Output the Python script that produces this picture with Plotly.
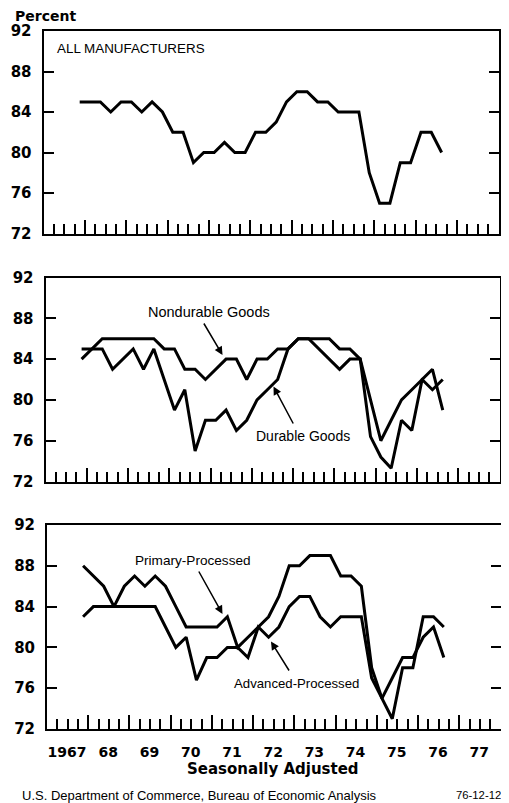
import plotly.graph_objects as go

# ---------------- data ----------------
quarters = ["1967Q4",
            "1968Q1", "1968Q2", "1968Q3", "1968Q4",
            "1969Q1", "1969Q2", "1969Q3", "1969Q4",
            "1970Q1", "1970Q2", "1970Q3", "1970Q4",
            "1971Q1", "1971Q2", "1971Q3", "1971Q4",
            "1972Q1", "1972Q2", "1972Q3", "1972Q4",
            "1973Q1", "1973Q2", "1973Q3", "1973Q4",
            "1974Q1", "1974Q2", "1974Q3", "1974Q4",
            "1975Q1", "1975Q2", "1975Q3", "1975Q4",
            "1976Q1", "1976Q2", "1976Q3"]

all_manufacturers = [85, 85, 85, 84, 85, 85, 84, 85, 84, 82, 82, 79,
                     80, 80, 81, 80, 80, 82, 82, 83, 85, 86, 86, 85,
                     85, 84, 84, 84, 78, 75, 75, 79, 79, 82, 82, 80]

nondurable_goods = [84, 85, 86, 86, 86, 86, 86, 86, 85, 85, 83, 83,
                    82, 83, 84, 84, 82, 84, 84, 85, 85, 86, 86, 86,
                    86, 85, 85, 84, 80, 76, 78, 80, 81, 82, 81, 82]

durable_goods = [85, 85, 85, 83, 84, 85, 83, 85, 82, 79, 81, 75,
                 78, 78, 79, 77, 78, 80, 81, 82, 85, 86, 86, 85,
                 84, 83, 84, 84, 76.4, 74.4, 73.3, 78, 77, 82, 83, 79]

primary_processed = [88, 87, 86, 84, 86, 87, 86, 87, 86, 84, 82, 82,
                     82, 82, 83, 80, 81, 82, 83, 85, 88, 88, 89, 89,
                     89, 87, 87, 86, 78, 75, 73, 78, 78, 83, 83, 82]

advanced_processed = [83, 84, 84, 84, 84, 84, 84, 84, 82, 80, 81, 76.8,
                      79, 79, 80, 80, 79, 82, 81, 82, 84, 85, 85, 83,
                      82, 83, 83, 83, 77, 75, 77, 79, 79, 81, 82, 79]

year_ticks = [1967, 1968, 1969, 1970, 1971, 1972, 1973, 1974, 1975, 1976, 1977]
year_labels = ["1967", "68", "69", "70", "71", "72", "73", "74", "75", "76", "77"]
y_ticks = [72, 76, 80, 84, 88, 92]
y_labels = ["72", "76", "80", "84", "88", "92"]

# quarter label -> position at the middle of the quarter
xq = [int(q[:4]) + (int(q[-1]) - 1) * 0.25 + 0.125 for q in quarters]

# ---------------- layout helpers ----------------
# The page body has an 8px margin, so the figure is drawn 8px smaller and
# all page-pixel positions below are converted with that offset.
PAGE_W, PAGE_H = 509, 803
OFF = 8
W, H = PAGE_W - OFF, PAGE_H - OFF


def fx(p):
    return (p - OFF) / W


def fy(p):
    return 1 - (p - OFF) / H


NUM_FONT = dict(family="DejaVu Sans", size=15, color="black", weight="bold")
XNUM_FONT = dict(family="DejaVu Sans", size=14, color="black", weight="bold")
NARROW = "Liberation Sans Narrow, Arial Narrow, Liberation Sans, Arial, sans-serif"

fig = go.Figure()

LINE = dict(color="black", width=3)
fig.add_trace(go.Scatter(x=xq, y=all_manufacturers, mode="lines", line=LINE,
                         xaxis="x", yaxis="y", name="All Manufacturers"))
fig.add_trace(go.Scatter(x=xq, y=nondurable_goods, mode="lines", line=LINE,
                         xaxis="x2", yaxis="y2", name="Nondurable Goods"))
fig.add_trace(go.Scatter(x=xq, y=durable_goods, mode="lines", line=LINE,
                         xaxis="x2", yaxis="y2", name="Durable Goods"))
fig.add_trace(go.Scatter(x=xq, y=primary_processed, mode="lines", line=LINE,
                         xaxis="x3", yaxis="y3", name="Primary-Processed"))
fig.add_trace(go.Scatter(x=xq, y=advanced_processed, mode="lines", line=LINE,
                         xaxis="x3", yaxis="y3", name="Advanced-Processed"))

panels = [  # (left, right, top, bottom) in page pixels
    (43.5, 498.5, 31.0, 233.5),
    (45.5, 499.5, 277.5, 481.5),
    (47.0, 500.5, 525.0, 729.0),
]


def xaxis_def(i, l, r, show_labels):
    d = dict(domain=[fx(l), fx(r)], range=[1967, 1978], anchor="y" + ("" if i == 1 else str(i)),
             automargin=False,
             showline=True, linecolor="black", linewidth=2, mirror=True,
             ticks="inside", ticklen=14, tickwidth=1.6, tickcolor="black",
             tickmode="array", tickvals=year_ticks, ticktext=year_labels,
             showticklabels=show_labels, tickfont=XNUM_FONT,
             ticklabelshift=20, ticklabelstandoff=9,
             showgrid=False, zeroline=False,
             minor=dict(ticks="inside", ticklen=10, tickwidth=1.6, tickcolor="black",
                        dtick=0.25, tick0=1967, showgrid=False))
    return d


def yaxis_def(i, t, b):
    return dict(domain=[fy(b), fy(t)], range=[72, 92], anchor="x" + ("" if i == 1 else str(i)),
                automargin=False,
                showline=True, linecolor="black", linewidth=2, mirror="ticks",
                ticks="inside", ticklen=10, tickwidth=1.6, tickcolor="black",
                tickmode="array", tickvals=y_ticks, ticktext=y_labels,
                tickfont=NUM_FONT, ticklabelstandoff=7,
                showgrid=False, zeroline=False)


layout_axes = {}
for i, (l, r, t, b) in enumerate(panels, start=1):
    key = "" if i == 1 else str(i)
    layout_axes["xaxis" + key] = xaxis_def(i, l, r, i == 3)
    layout_axes["yaxis" + key] = yaxis_def(i, t, b)

annotations = []


def text(s, x, y, size, family=NARROW, xanchor="center", weight="normal"):
    annotations.append(dict(text=s, x=fx(x), y=fy(y), xref="paper", yref="paper",
                            xanchor=xanchor, yanchor="middle", showarrow=False,
                            borderpad=0,
                            font=dict(family=family, size=size, color="black", weight=weight)))


def arrow(tail, head):
    annotations.append(dict(text="", x=fx(head[0]), y=fy(head[1]), xref="paper", yref="paper",
                            ax=tail[0] - head[0], ay=tail[1] - head[1],
                            showarrow=True, arrowhead=2, arrowsize=1.1, arrowwidth=1.5,
                            arrowcolor="black"))


text("Percent", 14, 16, 14, family="DejaVu Sans", xanchor="left", weight="bold")
text("ALL MANUFACTURERS", 56, 48.5, 13.4, xanchor="left")
text("Nondurable Goods", 209, 311.5, 14.5)
arrow((203, 322), (222.5, 355))
text("Durable Goods", 302.5, 435.5, 14)
arrow((294, 425), (273.5, 386.5))
text("Primary-Processed", 192.5, 560, 13.6)
arrow((198, 570), (222.5, 614))
text("Advanced-Processed", 296, 683, 13.2)
arrow((290, 672), (271, 641.5))
text("Seasonally Adjusted", 272.5, 769, 15, family="DejaVu Sans", weight="bold")
text("U.S. Department of Commerce, Bureau of Economic Analysis", 21, 795, 13, xanchor="left")
text("76-12-12", 502, 794.5, 11.3, xanchor="right")

fig.update_layout(width=W, height=H, margin=dict(l=0, r=0, t=0, b=0, pad=0),
                  paper_bgcolor="white", plot_bgcolor="white", showlegend=False,
                  annotations=annotations, **layout_axes)

fig.write_html("out.html")
